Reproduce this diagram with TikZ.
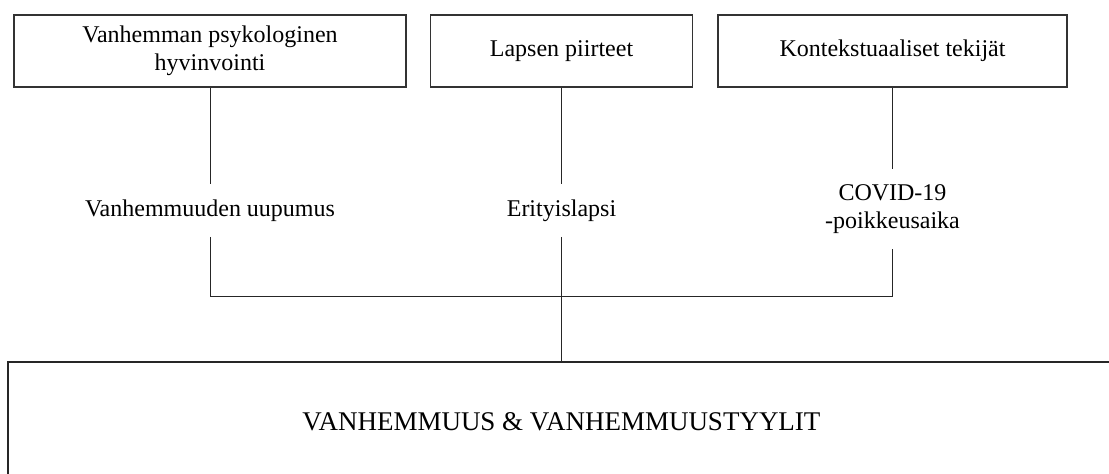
\documentclass[tikz,border=0pt]{standalone}
\usepackage{fontspec}
\setmainfont{Liberation Serif}
\begin{document}
\begin{tikzpicture} [
                x=0.5pt, y=-0.5pt,
                box/.style={draw=black!80,line width=0.6pt,align=center,minimum height=36pt,font=\fontsize{12}{14}\selectfont},
                factor/.style={align=center,inner xsep=2pt,inner ysep=7.5pt,font=\fontsize{12}{14}\selectfont},
                outcome/.style={draw=black!85,line width=0.8pt,minimum width=553.5pt,minimum height=60pt,font=\fontsize{13.5}{16}\selectfont},
                link/.style = {draw,black!85,line width=0.5pt},
            ]
            \clip (0,0) rectangle (1109,474);
            \foreach \pos/\w/\name/\txt in {
            {(210,51)/196pt/a/Vanhemman psykologinen\\hyvinvointi}, {(561.5,51)/131pt/b/Lapsen piirteet}, {(892.5,51)/174.5pt/c/Kontekstuaaliset tekijät}}
                \node[box,minimum width=\w] (\name) at \pos {\txt};
            \foreach \pos/\name/\txt in {
            {(210,210.5)/l1/Vanhemmuuden uupumus}, {(561.5,210.5)/l2/Erityislapsi}, {(892.5,209)/l3/COVID-19\\-poikkeusaika}}
                \node[factor] (\name) at \pos {\txt};
            \node[outcome] (out) at (561.5,422) {VANHEMMUUS \& VANHEMMUUSTYYLIT};
            \coordinate (jl) at (210,297);
            \coordinate (jr) at (892.5,297);
            \foreach \source/ \dest in {
                    a/l1,b/l2,c/l3,l2/out}
                \path[link] (\source) -- (\dest);
            \path[link] (l1) -- (jl) -- (jr) -- (l3);
        \end{tikzpicture}
\end{document}
